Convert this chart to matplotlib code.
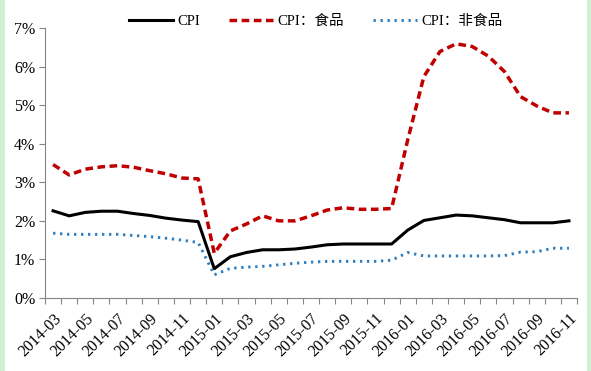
import matplotlib
matplotlib.use("Agg")
import matplotlib.pyplot as plt
from matplotlib.patches import Rectangle
from matplotlib.ticker import FixedLocator, FuncFormatter

months = ["2014-03", "2014-04", "2014-05", "2014-06", "2014-07", "2014-08", "2014-09",
          "2014-10", "2014-11", "2014-12", "2015-01", "2015-02", "2015-03", "2015-04",
          "2015-05", "2015-06", "2015-07", "2015-08", "2015-09", "2015-10", "2015-11",
          "2015-12", "2016-01", "2016-02", "2016-03", "2016-04", "2016-05", "2016-06",
          "2016-07", "2016-08", "2016-09", "2016-10", "2016-11"]

cpi = [2.26, 2.13, 2.22, 2.25, 2.25, 2.19, 2.14, 2.07, 2.02, 1.98, 0.76,
       1.07, 1.18, 1.25, 1.25, 1.27, 1.32, 1.38, 1.40, 1.40, 1.40, 1.40,
       1.76, 2.01, 2.08, 2.15, 2.13, 2.08, 2.03, 1.95, 1.95, 1.95, 2.00]

cpi_food = [3.46, 3.19, 3.34, 3.40, 3.43, 3.39, 3.30, 3.22, 3.11, 3.09, 1.16,
            1.74, 1.92, 2.13, 2.00, 2.00, 2.13, 2.28, 2.34, 2.30, 2.30, 2.32,
            4.10, 5.74, 6.39, 6.59, 6.52, 6.27, 5.87, 5.22, 4.98, 4.80, 4.80]

cpi_nonfood = [1.68, 1.65, 1.65, 1.65, 1.65, 1.62, 1.59, 1.55, 1.50, 1.44, 0.60,
               0.77, 0.80, 0.82, 0.86, 0.90, 0.93, 0.95, 0.95, 0.95, 0.95, 0.98,
               1.18, 1.09, 1.09, 1.09, 1.09, 1.09, 1.10, 1.19, 1.20, 1.29, 1.29]

series_names = ["CPI", "CPI：食品", "CPI：非食品"]
y_ticks = [0, 1, 2, 3, 4, 5, 6, 7]

fonts = ["Liberation Serif", "Noto Sans CJK SC", "DejaVu Sans"]
plt.rcParams["font.family"] = fonts

W, H = 591, 371
fig = plt.figure(figsize=(W / 100, H / 100), dpi=100)
fig.patch.set_facecolor("white")

# green frame strips
fig.add_artist(Rectangle((0, 0), 5 / W, 1, transform=fig.transFigure,
                         facecolor="#CDEFD4", edgecolor="none"))
fig.add_artist(Rectangle((587 / W, 0), 4 / W, 1, transform=fig.transFigure,
                         facecolor="#CDEFD4", edgecolor="none"))

ax = fig.add_axes([45 / W, 1 - 298 / H, (577 - 45) / W, (298 - 28) / H])
x = list(range(len(months)))

l1, = ax.plot(x, cpi, color="black", lw=2.2, solid_joinstyle="round")
l2, = ax.plot(x, cpi_food, color="#C00000", lw=2.5, linestyle=(0, (2.2, 1.3)))
l3, = ax.plot(x, cpi_nonfood, color="#2E7FC0", lw=2.1, linestyle=(0, (0.8, 1.6)))

ax.set_xlim(-0.5, len(months) - 0.5)
ax.set_ylim(0, 7)

ax.set_yticks(y_ticks)
ax.yaxis.set_major_formatter(FuncFormatter(lambda v, p: f"{int(v)}%"))

ax.set_xticks(x[::2])
ax.set_xticklabels(months[::2], rotation=45, ha="right", rotation_mode="anchor")
ax.xaxis.set_minor_locator(FixedLocator([i - 0.5 for i in range(len(months) + 1)]))

ax.tick_params(axis="x", which="major", length=0, pad=9, labelsize=11.5, colors="black")
ax.tick_params(axis="x", which="minor", length=4, width=0.8, color="#868686")
ax.tick_params(axis="y", which="major", length=4, width=0.8, color="#868686",
               labelsize=11.5, pad=3)

for side in ["top", "right"]:
    ax.spines[side].set_visible(False)
for side in ["left", "bottom"]:
    ax.spines[side].set_color("#868686")
    ax.spines[side].set_linewidth(0.8)

fig.legend([l1, l2, l3], series_names, loc="center", ncol=3,
           bbox_to_anchor=(316 / W, 1 - 21 / H), frameon=False,
           fontsize=10.5, handlelength=3.0, handletextpad=0.3, columnspacing=2.0)

fig.savefig("out.png", dpi=100)
